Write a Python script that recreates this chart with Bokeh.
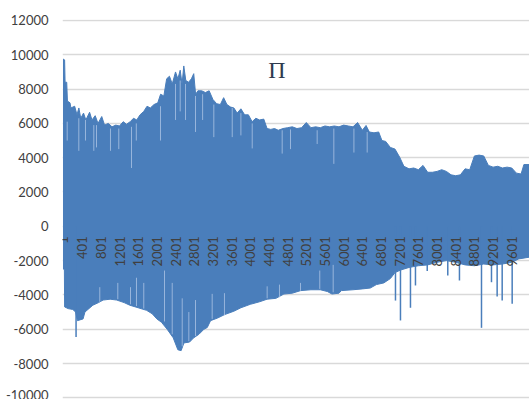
import math
from bokeh.plotting import figure
from bokeh.models import Range1d, FixedTicker, Label
from bokeh.core.properties import value
from bokeh.embed import file_html
from bokeh.resources import INLINE

# upper envelope of the signal (sample index, value)
upper_idx = [1, 25, 35, 70, 85, 140, 160, 240, 290, 330, 370, 430, 480, 560, 610, 680, 740, 820, 880, 960,
             1040, 1120, 1200, 1280, 1350, 1430, 1500, 1570, 1640, 1720, 1790, 1860, 1940, 2020, 2080, 2150,
             2210, 2270, 2330, 2400, 2450, 2500, 2540, 2577, 2620, 2680, 2740, 2790, 2830, 2880, 2960, 3040,
             3120, 3200, 3280, 3360, 3430, 3500, 3580, 3650, 3720, 3800, 3880, 3960, 4040, 4120, 4200, 4290,
             4360, 4440, 4520, 4600, 4700, 4800, 4900, 5000, 5100, 5200, 5300, 5400, 5500, 5600, 5700, 5800,
             5900, 6000, 6100, 6200, 6300, 6400, 6480, 6550, 6650, 6750, 6820, 6900, 7000, 7100, 7200, 7290,
             7400, 7500, 7600, 7700, 7800, 7900, 8000, 8100, 8200, 8300, 8400, 8500, 8600, 8700, 8800, 8900,
             9000, 9100, 9200, 9300, 9400, 9500, 9600, 9700, 9800, 9860, 9980]
upper_val = [9750, 9700, 8400, 8400, 7300, 7200, 6900, 7000, 6500, 6900, 6300, 6600, 6200, 6650, 6200, 6450, 6000, 6400, 5900, 6000,
             5800, 5900, 5850, 6100, 5950, 6100, 6300, 6200, 6500, 6700, 7000, 6900, 7100, 7200, 7700, 7600,
             8600, 8750, 8300, 9000, 8600, 9100, 8300, 9350, 8500, 8400, 8600, 8900, 7700, 7900, 7900, 7800,
             7900, 7400, 7150, 7100, 7500, 7100, 6950, 6900, 6600, 6850, 6500, 6500, 6100, 6300, 6200, 6250,
             5700, 5650, 5700, 5600, 5700, 5750, 5800, 5700, 5750, 6050, 5750, 5800, 5750, 5850, 5800, 5850,
             5800, 5900, 5850, 5800, 6050, 5600, 5880, 5500, 5450, 5500, 5000, 4950, 4600, 4500, 4030, 3500,
             3350, 3400, 3300, 3550, 3150, 3150, 3200, 3300, 3200, 3000, 2950, 3000, 3350, 3300, 4100, 4150,
             4100, 3550, 3450, 3500, 3400, 3450, 3400, 3100, 3050, 3600, 3600]

# lower envelope of the signal (sample index, value)
lower_idx = [1, 20, 25, 100, 200, 260, 300, 420, 460, 630, 750, 850, 1000, 1140, 1300, 1420, 1600, 1780, 1900,
             2000, 2100, 2220, 2350, 2450, 2520, 2580, 2700, 2790, 2900, 3010, 3080, 3150, 3300, 3450, 3650,
             3800, 4000, 4200, 4360, 4550, 4720, 4900, 5080, 5300, 5500, 5650, 5750, 5900, 5950, 6200, 6400,
             6570, 6700, 6860, 7000, 7100, 7220, 7400, 7600, 7800, 8000, 8200, 8400, 8600, 8800, 9000, 9200,
             9400, 9600, 9750, 9980]
lower_val = [-2500, -2500, -4700, -4800, -4850, -5000, -5500, -5400, -5000, -4600, -4450, -4300, -4250, -4300, -4450, -4600, -4750, -4900, -5100,
             -5400, -5600, -6000, -6500, -7200, -7250, -6800, -6750, -6500, -6300, -6000, -5900, -5500, -5350, -5150, -4950,
             -4750, -4550, -4400, -4250, -4200, -3950, -3900, -3750, -3700, -3700, -3800, -3950, -3900, -3750, -3700, -3650,
             -3600, -3400, -3300, -3050, -2700, -2550, -2400, -2300, -2250, -2100, -2000, -2100, -2250, -2300, -2200, -2250,
             -2200, -2100, -1900, -1800]

# isolated downward spikes
spike_idx = [270, 7110, 7217, 7431, 7538, 7790, 8230, 8480, 8952, 9166, 9287, 9395, 9609]
spike_val = [-6450, -4330, -5490, -4750, -3450, -2600, -2870, -3160, -5920, -3260, -4090, -4330, -4520]

# light streaks (short local minima) reaching down from the upper edge
dip_idx = [80, 329, 472, 650, 708, 1007, 1185, 1457, 1560, 2078, 2400, 2500, 2614, 2828, 2980, 3220, 3614,
           3800, 4042, 4684, 4862, 5433, 5790, 6220, 6504]
dip_top = [6100, 6300, 6200, 5900, 5900, 5700, 5700, 5800, 6000, 7000, 8300, 8500, 8300, 7600, 7700, 7100, 6900,
           6600, 6000, 5600, 5650, 5600, 5700, 5700, 5500]
dip_bot = [5000, 4400, 5000, 4400, 4600, 4400, 4500, 3400, 5000, 5000, 6200, 6700, 6200, 5500, 6200, 5200, 5200,
           5300, 4540, 4240, 4500, 4800, 3640, 4300, 4300]

# light streaks (short local maxima) reaching up from the lower edge
rise_idx = [778, 1164, 1436, 1564, 1720, 2164, 2329, 2543, 2685, 2828, 3185, 3448, 4362, 4626, 5076, 5489, 5776]
rise_bot = [-4400, -4250, -4550, -4650, -4800, -5550, -6300, -7000, -6700, -6400, -5400, -5200, -4200, -4150,
            -3750, -3650, -3850]
rise_top = [-3550, -3300, -3550, -3000, -3300, -2580, -3300, -4200, -5000, -4300, -3940, -3900, -3500, -3400,
            -3300, -2580, -2250]

x_labels = ["1", "401", "801", "1201", "1601", "2001", "2401", "2801", "3201", "3601", "4001", "4401",
            "4801", "5201", "5601", "6001", "6401", "6801", "7201", "7601", "8001", "8401", "8801", "9201", "9601"]
x_label_pos = [1, 401, 801, 1201, 1601, 2001, 2401, 2801, 3201, 3601, 4001, 4401,
               4801, 5201, 5601, 6001, 6401, 6801, 7201, 7601, 8001, 8401, 8801, 9201, 9601]
y_ticks = [-10000, -8000, -6000, -4000, -2000, 0, 2000, 4000, 6000, 8000, 10000, 12000]
y_tick_labels = ["-10000", "-8000", "-6000", "-4000", "-2000", "0", "2000", "4000", "6000", "8000", "10000", "12000"]
title_text = "Π"

BLUE = "#4A7EBB"
STREAK = "#b9cdea"

p = figure(width=529, height=399, output_backend="svg", toolbar_location=None,
           x_range=Range1d(-20.4, 9980), y_range=Range1d(-10099, 12058),
           min_border_left=62, min_border_right=0, min_border_top=19, min_border_bottom=0)
p.outline_line_color = None
p.background_fill_color = "white"
p.xaxis.visible = False
p.xgrid.visible = False
p.ygrid.ticker = FixedTicker(ticks=y_ticks)
p.ygrid.grid_line_color = "#d9d9d9"
p.ygrid.grid_line_width = 1.5

yax = p.yaxis[0]
yax.ticker = FixedTicker(ticks=y_ticks)
yax.major_label_overrides = dict(zip(y_ticks, y_tick_labels))
yax.axis_line_color = None
yax.major_tick_line_color = None
yax.minor_tick_line_color = None
yax.major_tick_out = 0
yax.major_tick_in = 0
yax.major_label_standoff = 14
yax.major_label_text_font = "Lato"
yax.major_label_text_font_size = "13px"
yax.major_label_text_color = "#404040"

# signal body
px = upper_idx + lower_idx[::-1]
py = upper_val + lower_val[::-1]
p.patch(px, py, fill_color=BLUE, line_color=BLUE, line_width=1)
p.segment(x0=dip_idx, y0=dip_bot, x1=dip_idx, y1=dip_top, line_color=STREAK, line_width=1, line_alpha=0.7)
p.segment(x0=rise_idx, y0=rise_bot, x1=rise_idx, y1=rise_top, line_color=STREAK, line_width=1, line_alpha=0.7)
p.segment(x0=spike_idx, y0=[0] * len(spike_idx), x1=spike_idx, y1=spike_val,
          line_color=BLUE, line_width=1.5)

# category labels along the zero line
p.text(x=x_label_pos, y=[0] * len(x_label_pos), text=x_labels, angle=math.pi / 2,
       text_align="right", text_baseline="middle", y_offset=10,
       text_font=value("Lato"), text_font_size="13px", text_color="#404040")

p.add_layout(Label(x=4573, y=9085, text=title_text, text_align="center", text_baseline="middle",
                   text_font="Liberation Serif", text_font_size="24px", text_color="#2f3b4f"))

open("out.html", "w").write(file_html(p, INLINE))
